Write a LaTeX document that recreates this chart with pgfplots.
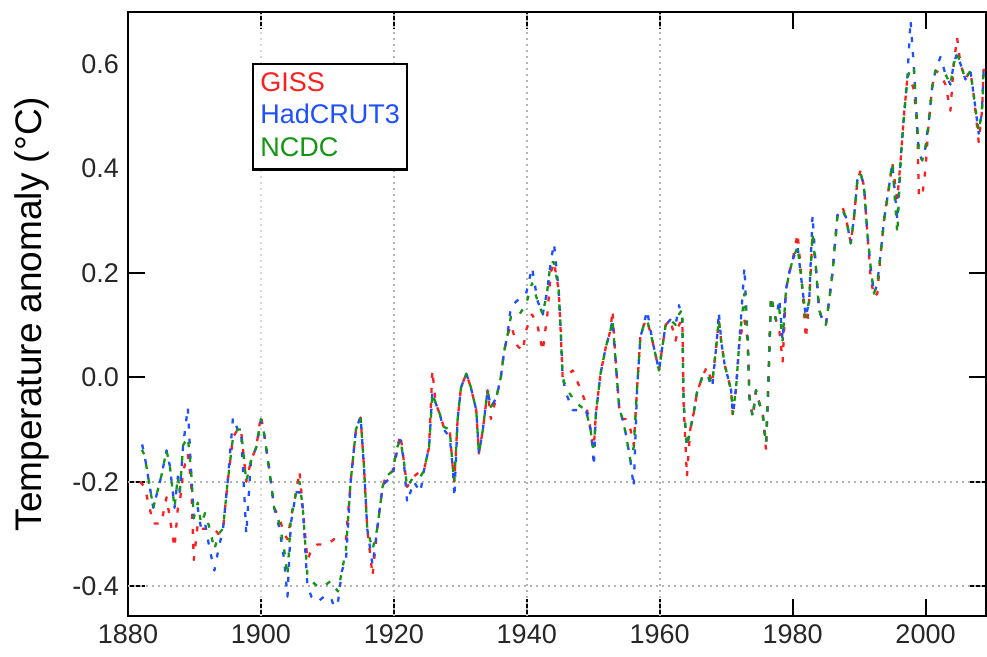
\documentclass[border=0pt]{standalone}
\usepackage{pgfplots}
\usepackage{pgfplotstable}
\pgfplotsset{compat=1.18}
\usepackage{fontspec}
\setmainfont{Liberation Sans}
\definecolor{gissRed}{HTML}{FF1E1E}
\definecolor{hadBlue}{HTML}{1E50FF}
\definecolor{ncdcGreen}{HTML}{149614}
\definecolor{gridGray}{HTML}{B4B4B4}

\pgfplotstableread{
year giss had ncdc
1881.8 -0.20 -0.11 -0.13
1882.5 -0.21 -0.15 -0.15
1883.8 -0.28 -0.25 -0.25
1885.0 -0.28 -0.19 -0.19
1885.8 -0.23 -0.14 -0.14
1886.3 -0.27 -0.17 -0.17
1887.0 -0.326 -0.25 -0.25
1887.5 -0.25 -0.19 -0.19
1887.8 -0.24 -0.22 -0.22
1888.3 -0.18 -0.13 -0.13
1889.0 -0.147 -0.058 -0.115
1889.5 -0.20 -0.18 -0.18
1889.9 -0.35 -0.27 -0.27
1890.5 -0.28 -0.25 -0.24
1891.0 -0.29 -0.29 -0.28
1891.6 -0.29 -0.28 -0.26
1892.3 -0.29 -0.33 -0.29
1893.0 -0.29 -0.37 -0.33
1893.6 -0.30 -0.33 -0.30
1894.3 -0.29 -0.29 -0.29
1895.0 -0.20 -0.20 -0.20
1895.8 -0.115 -0.077 -0.115
1896.5 -0.10 -0.10 -0.10
1897.0 -0.10 -0.10 -0.10
1897.8 -0.20 -0.30 -0.20
1898.5 -0.16 -0.16 -0.16
1899.3 -0.134 -0.134 -0.134
1900.0 -0.073 -0.083 -0.08
1900.5 -0.11 -0.11 -0.11
1901.3 -0.18 -0.18 -0.18
1902.0 -0.25 -0.25 -0.25
1902.8 -0.27 -0.29 -0.28
1903.5 -0.30 -0.35 -0.33
1904.0 -0.31 -0.42 -0.38
1904.5 -0.27 -0.28 -0.27
1905.3 -0.22 -0.22 -0.22
1905.8 -0.18 -0.22 -0.20
1906.3 -0.25 -0.25 -0.25
1907.0 -0.35 -0.40 -0.38
1907.6 -0.33 -0.42 -0.39
1908.5 -0.32 -0.43 -0.40
1909.5 -0.32 -0.42 -0.40
1910.5 -0.315 -0.42 -0.39
1911.0 -0.31 -0.44 -0.40
1911.6 -0.31 -0.43 -0.41
1912.2 -0.31 -0.37 -0.37
1912.8 -0.31 -0.35 -0.33
1913.5 -0.20 -0.20 -0.20
1914.3 -0.10 -0.10 -0.10
1915.0 -0.077 -0.075 -0.077
1915.5 -0.17 -0.17 -0.17
1916.0 -0.29 -0.29 -0.29
1916.8 -0.38 -0.36 -0.33
1917.5 -0.29 -0.29 -0.29
1918.3 -0.21 -0.21 -0.21
1918.8 -0.19 -0.20 -0.19
1919.8 -0.18 -0.19 -0.18
1920.5 -0.134 -0.14 -0.134
1921.0 -0.11 -0.12 -0.12
1921.5 -0.16 -0.16 -0.16
1922.0 -0.21 -0.24 -0.21
1923.0 -0.19 -0.20 -0.19
1924.0 -0.18 -0.22 -0.19
1924.5 -0.18 -0.18 -0.18
1925.3 -0.134 -0.134 -0.134
1925.8 0.013 -0.03 -0.03
1926.3 -0.05 -0.05 -0.05
1926.9 -0.07 -0.07 -0.07
1927.5 -0.095 -0.10 -0.095
1928.4 -0.10 -0.114 -0.10
1928.9 -0.178 -0.178 -0.178
1929.1 -0.20 -0.23 -0.20
1929.6 -0.08 -0.08 -0.08
1930.1 -0.02 -0.02 -0.02
1930.9 0.007 0.007 0.007
1931.6 -0.02 -0.02 -0.02
1932.4 -0.063 -0.063 -0.063
1932.8 -0.146 -0.146 -0.146
1933.4 -0.10 -0.10 -0.10
1934.1 -0.025 -0.025 -0.025
1934.6 -0.08 -0.057 -0.057
1935.4 -0.04 -0.04 -0.04
1936.1 0.0 0.0 0.0
1936.6 0.05 0.05 0.05
1937.1 0.08 0.08 0.08
1937.6 0.10 0.135 0.115
1938.6 0.06 0.147 0.115
1939.4 0.05 0.155 0.13
1939.9 0.09 0.16 0.14
1940.8 0.12 0.21 0.18
1941.6 0.10 0.147 0.147
1942.4 0.05 0.12 0.12
1943.1 0.12 0.167 0.167
1943.6 0.20 0.22 0.22
1944.1 0.22 0.256 0.22
1944.8 0.167 0.167 0.167
1945.1 0.09 0.09 0.09
1945.4 0.0 0.0 0.0
1945.9 0.0 -0.03 -0.02
1946.9 0.013 -0.063 -0.04
1948.0 -0.02 -0.063 -0.055
1948.9 -0.05 -0.063 -0.063
1949.6 -0.10 -0.10 -0.10
1949.9 -0.133 -0.133 -0.133
1950.1 -0.133 -0.17 -0.133
1950.4 -0.07 -0.07 -0.07
1951.1 0.007 0.007 0.007
1951.9 0.058 0.058 0.058
1952.6 0.09 0.09 0.09
1952.9 0.128 0.11 0.11
1953.4 0.026 0.026 0.026
1953.9 -0.057 -0.057 -0.057
1954.4 -0.08 -0.08 -0.08
1954.9 -0.08 -0.108 -0.108
1955.6 -0.10 -0.16 -0.16
1956.1 -0.13 -0.21 -0.133
1956.6 -0.02 -0.02 -0.02
1957.1 0.077 0.077 0.077
1957.6 0.10 0.10 0.10
1958.1 0.11 0.128 0.11
1958.9 0.07 0.07 0.07
1959.9 0.013 0.013 0.013
1960.4 0.058 0.058 0.058
1960.9 0.10 0.10 0.10
1961.6 0.11 0.11 0.11
1962.4 0.07 0.10 0.10
1962.9 0.10 0.138 0.12
1963.4 0.11 0.11 0.13
1963.6 -0.05 -0.05 -0.05
1964.1 -0.19 -0.133 -0.133
1964.6 -0.10 -0.10 -0.10
1965.1 -0.07 -0.07 -0.07
1965.6 -0.03 -0.03 -0.03
1966.4 0.0 0.0 0.0
1967.1 0.02 0.007 0.007
1967.9 -0.012 -0.02 -0.012
1968.6 0.07 0.07 0.07
1968.9 0.11 0.125 0.11
1969.25 0.07 0.07 0.07
1969.75 0.026 0.026 0.026
1970.25 0.0 0.0 0.0
1970.75 -0.025 -0.025 -0.025
1971.0 -0.076 -0.07 -0.07
1971.5 -0.02 -0.02 -0.02
1972.0 0.07 0.07 0.07
1972.75 0.11 0.21 0.16
1973.25 0.07 0.07 0.07
1973.5 -0.038 -0.038 -0.038
1974.0 -0.076 -0.076 -0.076
1974.5 -0.025 -0.025 -0.025
1975.0 -0.05 -0.05 -0.05
1975.5 -0.07 -0.07 -0.07
1976.0 -0.14 -0.127 -0.127
1976.25 -0.05 -0.05 -0.05
1976.5 0.05 0.05 0.05
1976.75 0.154 0.154 0.154
1977.5 0.109 0.109 0.109
1978.0 0.09 0.15 0.13
1978.5 0.03 0.07 0.07
1979.0 0.167 0.167 0.167
1979.5 0.20 0.20 0.20
1980.0 0.224 0.224 0.224
1980.75 0.275 0.25 0.25
1981.5 0.167 0.167 0.167
1982.0 0.074 0.115 0.115
1982.5 0.147 0.147 0.147
1983.0 0.275 0.31 0.275
1983.5 0.21 0.21 0.21
1984.0 0.128 0.128 0.128
1984.5 0.11 0.11 0.11
1985.0 0.10 0.10 0.10
1985.5 0.147 0.147 0.147
1986.0 0.20 0.20 0.20
1986.75 0.31 0.31 0.31
1987.5 0.326 0.32 0.32
1988.0 0.307 0.307 0.307
1988.75 0.256 0.256 0.256
1989.25 0.307 0.307 0.307
1989.75 0.377 0.377 0.377
1990.25 0.396 0.39 0.39
1990.75 0.364 0.364 0.364
1991.25 0.275 0.275 0.275
1991.75 0.19 0.21 0.21
1992.25 0.154 0.16 0.16
1992.75 0.16 0.18 0.18
1993.25 0.237 0.237 0.237
1993.75 0.30 0.30 0.30
1994.5 0.364 0.364 0.364
1995.0 0.41 0.41 0.41
1995.75 0.34 0.30 0.275
1996.25 0.415 0.415 0.415
1996.75 0.50 0.50 0.50
1997.25 0.57 0.57 0.57
1997.75 0.57 0.683 0.593
1998.25 0.55 0.593 0.593
1998.75 0.48 0.48 0.48
1999.0 0.35 0.43 0.43
1999.5 0.345 0.415 0.415
2000.0 0.40 0.44 0.44
2000.5 0.49 0.49 0.49
2001.0 0.555 0.555 0.555
2001.5 0.587 0.587 0.587
2002.25 0.58 0.613 0.58
2003.0 0.56 0.58 0.58
2003.75 0.51 0.56 0.56
2004.25 0.6 0.6 0.6
2004.75 0.65 0.62 0.62
2005.25 0.6 0.6 0.6
2006.0 0.57 0.57 0.57
2006.75 0.587 0.587 0.587
2007.25 0.54 0.54 0.54
2008.0 0.45 0.466 0.47
2008.5 0.51 0.51 0.51
2008.75 0.59 0.59 0.59
}\temps

\begin{document}
\begin{tikzpicture}
  \begin{axis}[
    at={(0,0)}, anchor=south west,
    scale only axis,
    width=429pt, height=302pt,
    xmin=1880, xmax=2009.1,
    ymin=-0.457, ymax=0.699,
    xtick={1880,1900,...,2000},
    ytick={-0.4,-0.2,0,0.2},
    yticklabels={-0.4,-0.2,0.0,0.2},
    extra y ticks={0.4,0.6},
    extra y tick labels={0.4,0.6},
    extra y tick style={major tick length=0pt},
    xticklabel style={/pgf/number format/1000 sep={}},
    /pgf/number format/assume math mode=true,
    tick align=inside,
    xtick pos=both, ytick pos=both,
    major tick length=8.5pt,
    tick style={black, line width=1pt},
    axis line style={black, line width=1pt},
    tick label style={font=\fontsize{13.5}{16}\selectfont, text=black!85},
    yticklabel style={xshift=-1pt},
    xticklabel style={yshift=-1pt},
    ylabel={Temperature anomaly (°C)},
    ylabel style={at={(axis description cs:-0.1327,0.5)}, anchor=north, inner sep=0pt,
      font=\fontsize{18.5}{20}\selectfont},
    legend style={at={(axis description cs:0.1444,0.9156)}, anchor=north west,
      draw=black, line width=1.2pt, fill=white,
      inner xsep=2pt, inner ysep=2pt, row sep=0pt,
      font=\fontsize{13.5}{16}\selectfont,
      nodes={text height=10pt, text depth=3pt, inner sep=1.6pt}},
    legend cell align=left,
    legend image code/.code={},
    every axis plot/.append style={line width=1.15pt, line join=round},
  ]
    \draw[gridGray!55, line width=0.9pt, dash pattern=on 1pt off 2pt]
      (axis cs:1900,-0.457) -- (axis cs:1900,0.699);
    \draw[gridGray, line width=0.9pt, dash pattern=on 1pt off 2pt]
      (axis cs:1920,-0.457) -- (axis cs:1920,0.699)
      (axis cs:1940,-0.457) -- (axis cs:1940,0.699)
      (axis cs:1960,-0.457) -- (axis cs:1960,0.699)
      (axis cs:1880,-0.2) -- (axis cs:2009.1,-0.2)
      (axis cs:1880,-0.4) -- (axis cs:2009.1,-0.4);
    \addplot[gissRed, dash pattern=on 2.5pt off 5pt, dash phase=0pt]
      table[x=year, y=giss] {\temps};
    \addlegendentry{\textcolor{gissRed}{GISS}}
    \addplot[hadBlue, dash pattern=on 2.5pt off 5pt, dash phase=2.5pt]
      table[x=year, y=had] {\temps};
    \addlegendentry{\textcolor{hadBlue}{HadCRUT3}}
    \addplot[ncdcGreen, dash pattern=on 2.5pt off 5pt, dash phase=5pt]
      table[x=year, y=ncdc] {\temps};
    \addlegendentry{\textcolor{ncdcGreen}{NCDC}}
  \end{axis}
  \pgfresetboundingbox
  \path (-64pt,-20.5pt) rectangle (429.5pt,308pt);
\end{tikzpicture}
\end{document}
